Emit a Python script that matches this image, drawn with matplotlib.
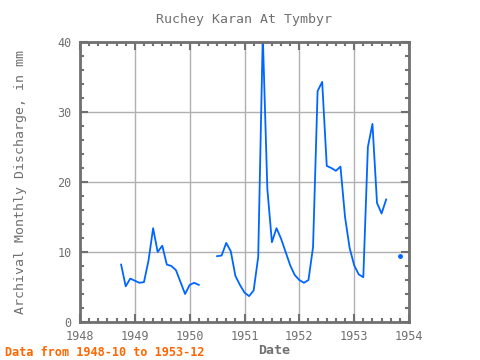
import numpy as np
import matplotlib
matplotlib.use('Agg')
from matplotlib import pyplot
from matplotlib.ticker import MultipleLocator

"""
Monthly discharge record, Ruchey Karan at Tymbyr, 1948-10 .. 1953-12.
"""

nan = np.nan
start_year, start_month = 1948, 10
discharge = [
    # 1948-10 .. 1948-12
    8.2, 5.1, 6.2,
    # 1949
    5.9, 5.6, 5.7, 8.8, 13.4, 10.0, 10.9, 8.2, 8.0, 7.4, 5.7, 4.0,
    # 1950
    5.3, 5.6, 5.3, nan, nan, nan, 9.4, 9.5, 11.3, 10.1, 6.6, 5.3,
    # 1951
    4.2, 3.7, 4.5, 9.3, 41.0, 19.0, 11.4, 13.4, 11.9, 10.0, 8.1, 6.7,
    # 1952
    6.0, 5.6, 6.0, 10.7, 33.0, 34.3, 22.3, 22.0, 21.6, 22.2, 15.0, 10.6,
    # 1953
    8.1, 6.8, 6.4, 25.0, 28.3, 17.0, 15.5, 17.5, nan, nan, 9.4, nan,
]

title = 'Ruchey Karan At Tymbyr'
ylabel = 'Archival Monthly Discharge, in mm'
xlabel = 'Date'
note = 'Data from 1948-10 to 1953-12'

y = np.array(discharge)
t = start_year + (start_month - 1 + np.arange(len(y))) / 12

pyplot.rcParams['font.family'] = ['DejaVu Sans Mono']
grey = '#707070'
blue = '#0066ff'

fig = pyplot.figure(figsize=(4.8, 3.6), dpi=100)
ax = fig.add_axes([80/480, 38/360, 329/480, 280/360])

ax.plot(t, y, color=blue, lw=1.3)
# points with no neighbours would not show as a line
ok = ~np.isnan(y)
prev = np.r_[False, ok[:-1]]
nxt = np.r_[ok[1:], False]
lone = ok & ~prev & ~nxt
ax.plot(t[lone], y[lone], 'o', color=blue, ms=2.5)

ax.set_xlim(1948, 1954)
ax.set_ylim(0, 40)
ax.xaxis.set_major_locator(MultipleLocator(1))
ax.xaxis.set_minor_locator(MultipleLocator(2/12))
ax.yaxis.set_major_locator(MultipleLocator(10))
ax.yaxis.set_minor_locator(MultipleLocator(2))
ax.tick_params(which='both', direction='in', top=True, right=True,
               colors=grey, labelsize=8.5, width=1.5)
ax.tick_params(which='major', length=6, pad=6)
ax.tick_params(which='minor', length=3)
ax.grid(True, which='major', color='#b0b0b0', lw=1)
for s in ax.spines.values():
    s.set_color(grey)
    s.set_linewidth(2)

ax.set_title(title, color=grey, fontsize=9.5, pad=14)
ax.set_ylabel(ylabel, color=grey, fontsize=9.5, labelpad=22)
ax.set_xlabel(xlabel, color=grey, fontsize=9.5, fontweight='bold')
ax.xaxis.set_label_coords(0.59, -0.08)
fig.text(5/480, 4/360, note, color='#ff6600', fontsize=8.5, fontweight='bold')

fig.savefig('out.png')
